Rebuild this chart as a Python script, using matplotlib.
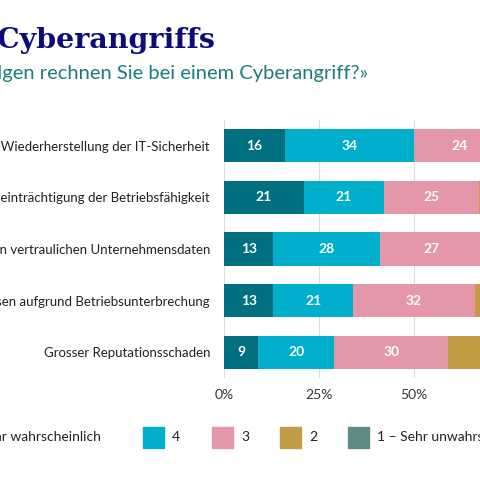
import matplotlib.pyplot as plt
from matplotlib.patches import Rectangle

categories = [
    "Kosten für Wiederherstellung der IT-Sicherheit",
    "Beeinträchtigung der Betriebsfähigkeit",
    "Verlust von vertraulichen Unternehmensdaten",
    "Umsatzeinbussen aufgrund Betriebsunterbrechung",
    "Grosser Reputationsschaden",
]
s5 = [16, 21, 13, 13, 9]
s4 = [34, 21, 28, 21, 20]
s3 = [24, 25, 27, 32, 30]
s2 = [18, 23, 22, 24, 28]
s1 = [8, 10, 10, 10, 13]
series = [s5, s4, s3, s2, s1]
labels = ["5 – Sehr wahrscheinlich", "4", "3", "2", "1 – Sehr unwahrscheinlich"]
colors = ["#006F80", "#00AFCB", "#E597AA", "#C29C45", "#5F8B84"]
ticks = [0, 25, 50, 75, 100]
ticklabels = ["0%", "25%", "50%", "75%", "100%"]

plt.rcParams["font.family"] = ["Lato", "DejaVu Sans"]
fig = plt.figure(figsize=(4.8, 4.8), dpi=100)
W = 480
# axes: 0% at x=224px, 50% at x=414px; rows from y=120 to y=378px
ax = fig.add_axes([224 / W, 1 - 378 / W, 380 / W, 258 / W])
y = list(range(len(categories)))
left = [0] * len(categories)
for vals, col in zip(series, colors):
    bars = ax.barh(y, vals, left=left, color=col, height=0.64, zorder=3)
    for b, v in zip(bars, vals):
        ax.text(b.get_x() + b.get_width() / 2, b.get_y() + b.get_height() / 2, str(v),
                ha="center", va="center", color="white", fontsize=10, fontweight="bold", zorder=4)
    left = [l + v for l, v in zip(left, vals)]
ax.set_ylim(4.5, -0.5)
ax.set_xlim(0, 100)
ax.set_xticks(ticks)
ax.set_xticklabels(ticklabels, fontsize=10, color="#333333")
ax.set_yticks(y)
ax.set_yticklabels(categories, fontsize=9.5, color="#222222")
ax.tick_params(length=0, pad=10)
ax.tick_params(axis="x", pad=8)
ax.grid(axis="x", color="#dddddd", linewidth=0.8, zorder=0)
for sp in ax.spines.values():
    sp.set_visible(False)

fig.text(215 / W, 1 - 40 / W, "Folgen eines Cyberangriffs", ha="right", va="center",
         fontsize=20.5, fontweight="bold", color="#0B0B7A", family=["DejaVu Serif"])
fig.text(368 / W, 1 - 74 / W, "«Mit welchen Folgen rechnen Sie bei einem Cyberangriff?»",
         ha="right", va="center", fontsize=14.5, color="#1A7C7C")

# legend
ly = 1 - 437 / W
fig.text(101 / W, ly, labels[0], ha="right", va="center", fontsize=10, color="#222222")
for lx, lab, col in zip([143, 212, 280, 348], labels[1:], colors[1:]):
    fig.patches.append(Rectangle((lx / W, ly - 10.5 / W), 21 / W, 21 / W,
                                 transform=fig.transFigure, color=col, figure=fig))
    fig.text((lx + 29) / W, ly, lab, ha="left", va="center", fontsize=10, color="#222222")

fig.savefig("out.png", dpi=100, facecolor="white")
